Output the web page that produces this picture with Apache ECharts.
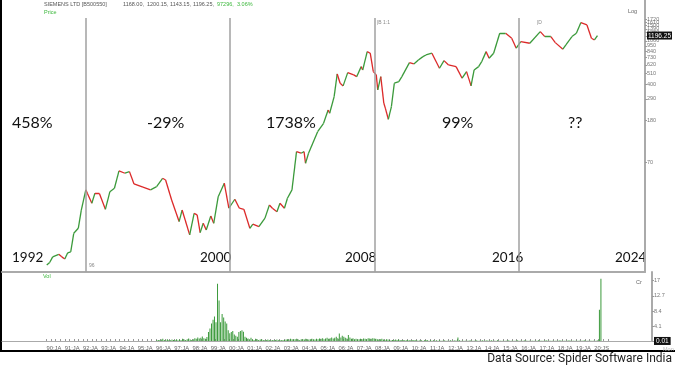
<!DOCTYPE html>
<html><head><meta charset="utf-8">
<script src="https://cdn.jsdelivr.net/npm/echarts@6/dist/echarts.min.js"></script>
<style>html,body{margin:0;padding:0;background:#fff}#c{width:675px;height:375px}</style>
</head><body><div id="c"></div>
<script>
// ---------- data ----------
const priceDates = ['1990-01','1990-03','1990-05','1990-09','1990-11','1991-01','1991-03','1991-05','1991-07','1991-10','1991-12',
'1992-03','1992-04','1992-07','1992-09','1992-12','1993-04','1993-07','1993-10','1994-01','1994-05','1994-08','1994-11',
'1995-05','1995-10','1996-02','1996-06','1996-08','1996-12','1997-05','1997-07','1997-09','1997-12','1998-03','1998-05',
'1998-07','1998-09','1998-11','1999-02','1999-04','1999-07','1999-11','2000-02','2000-06','2000-09','2000-12','2001-04',
'2001-06','2001-10','2002-02','2002-05','2002-07','2002-10','2002-12','2003-03','2003-05','2003-08','2003-11','2004-02',
'2004-04','2004-05','2004-07','2005-01','2005-05','2005-08','2005-09','2005-12','2006-02','2006-04','2006-06','2006-09',
'2007-01','2007-03','2007-06','2007-07','2007-10','2007-12','2008-02','2008-04','2008-05','2008-07','2008-09','2008-10',
'2008-12','2009-02','2009-04','2009-07','2009-09','2010-02','2010-05','2010-08','2010-11','2011-01','2011-05','2011-10',
'2012-01','2012-04','2012-09','2013-01','2013-04','2013-07','2013-09','2013-12','2014-02','2014-05','2014-07','2014-10',
'2015-02','2015-06','2015-10','2016-01','2016-04','2016-10','2017-05','2017-08','2017-12','2018-03','2018-08','2018-10',
'2019-02','2019-05','2019-08','2019-12','2020-03','2020-05','2020-07'];
const priceValues = [7.1,7.5,8.5,9.0,8.5,8.1,9.3,9.5,14.4,16.1,24.2,
38.0,35.2,28.2,35.2,35.0,24.6,36.5,39.4,58.0,55.1,57.1,43.4,
40.3,38.0,40.8,49.2,47.4,30.3,18.7,24.2,19.4,13.9,22.5,21.7,
14.6,18.0,15.5,21.2,18.0,32.6,44.1,25.2,30.8,25.2,24.6,16.1,
17.7,16.7,20.2,27.1,25.2,23.3,28.2,25.2,31.5,38.0,89.3,86.2,
89.3,68.9,86.2,139.6,168.4,226.8,210.7,305.4,507,412,388,522,
496,477,597,554,835,806,534,496,355,477,263,236,
184,244,412,427,477,653,634,693,747,775,806,576,
683,620,597,461,534,388,554,597,667,835,720,806,
1260,1260,1126,901,1044,1007,1305,1168,1168,1021,881,970,
1168,1260,1597,1516,1126,1084,1196.25];

const volYears = [1996,1997,1998,1999,2000,2001,2002,2003,2004,2005,2006,2007,2008,2009,2010,2011,2012,2013,2014,2015,2016,2017,2018,2019,2020];
const volMonthly = [
[0.2,0.3,0.2,0.4,0.6,0.3,0.2,0.5,0.3,0.2,0.4,0.3],
[0.3,0.5,0.2,0.4,0.3,0.6,0.4,0.3,0.5,0.7,0.4,0.3],
[0.5,0.8,0.6,1.0,0.7,0.9,1.3,0.8,0.6,1.1,2.5,3.5],
[4.9,6.0,6.9,5.3,16.1,11.4,5.3,7.6,6.6,5.5,4.9,3.0],
[2.2,2.5,2.8,1.8,1.5,1.2,2.5,2.8,3.0,2.6,1.2,0.9],
[0.7,0.5,0.9,0.4,0.3,0.6,0.5,0.3,0.4,0.5,0.3,0.2],
[0.3,0.4,0.3,0.2,0.3,0.2,0.3,0.4,0.2,0.3,0.2,0.3],
[0.3,0.4,0.5,0.4,0.6,0.5,0.4,0.5,0.6,0.4,0.3,0.5],
[0.5,0.4,0.6,0.5,0.4,0.5,0.6,0.5,0.4,0.6,0.5,0.7],
[0.6,0.8,0.5,0.7,0.9,0.6,0.8,1.0,0.7,0.9,1.2,0.8],
[2.1,1.0,1.5,1.2,0.9,0.7,1.7,1.0,0.6,0.8,0.5,0.6],
[0.4,0.5,0.6,0.5,0.7,0.6,0.5,0.8,0.7,0.6,0.8,0.7],
[0.6,0.5,0.4,0.5,0.6,0.4,0.3,0.5,0.4,0.3,0.2,0.3],
[0.3,0.4,0.3,0.4,0.3,0.2,0.3,0.2,0.2,0.3,0.2,0.2],
[0.2,0.3,0.2,0.2,0.1,0.2,0.2,0.1,0.2,0.3,0.2,0.1],
[0.2,0.1,0.2,0.1,0.2,0.1,0.2,0.1,0.1,0.2,0.1,0.1],
[0.1,0.2,0.1,0.1,0.2,0.1,1.0,0.2,0.1,0.1,0.1,0.1],
[0.1,0.1,0.2,0.1,0.1,0.1,0.2,0.1,0.1,0.1,0.2,0.1],
[0.1,0.2,0.1,0.1,0.2,0.1,0.1,0.1,0.2,0.1,0.1,0.1],
[0.1,0.1,0.1,0.2,0.1,0.1,0.1,0.1,0.1,0.2,0.1,0.1],
[0.1,0.1,0.2,0.1,0.1,0.1,0.1,0.1,0.1,0.1,0.1,0.2],
[0.1,0.1,0.1,0.1,0.2,0.1,0.1,0.1,0.1,0.1,0.1,0.1],
[0.1,0.2,0.1,0.1,0.1,0.1,0.1,0.2,0.1,0.1,0.1,0.1],
[0.1,0.1,0.1,0.1,0.1,0.2,0.1,0.1,0.1,0.1,0.1,0.1],
[0.1,0.1,0.2,8.8,17.5]
];

const priceTicks = [70,180,290,400,510,620,730,840,950,1060,1170,1280,1390,1500,1610,1720];
const lastPrice = 1196.25;
const volTicks = [0.01,4.1,8.4,12.7,17];
const xTickYears = [1990,1991,1992,1993,1994,1995,1996,1997,1998,1999,2000,2001,2002,2003,2004,2005,2006,2007,2008,2009,2010,2011,2012,2013,2014,2015,2016,2017,2018,2019,2020];
const xTickLabels = ['90:JA','91:JA','92:JA','93:JA','94:JA','95:JA','96:JA','97:JA','98:JA','99:JA','00:JA','01:JA','02:JA','03:JA','04:JA','05:JA','06:JA','07:JA','08:JA','09:JA','10:JA','11:JA','12:JA','13:JA','14:JA','15:JA','16:JA','17:JA','18:JA','19:JA','20:JS'];
const eraDates = ['1992-03-10','2000-03-12','2008-03-10','2016-03-07'];
const eraReturns = ['458%','-29%','1738%','99%','??'];
const eraYears = ['1992','2000','2008','2016','2024'];

// ---------- build ----------
const GREEN = '#3b9a3b', RED = '#dc2a2a';
function tsM(s){ const [y,m] = s.split('-').map(Number); return Date.UTC(y, m-1, 15); }
function tsD(s){ const [y,m,d] = s.split('-').map(Number); return Date.UTC(y, m-1, d); }
const X0 = Date.UTC(1987,6,25), X1 = Date.UTC(2023,2,3);
const PMIN = 6.06, PMAX = 2647, PTOP = 1775;

const pts = priceDates.map((d,i)=>[tsM(d), priceValues[i]]);
const segs = [];
for (let i=1;i<pts.length;i++){
  segs.push({coords:[pts[i-1], pts[i]], lineStyle:{color: priceValues[i] >= priceValues[i-1] ? GREEN : RED}});
}
const volData = [];
volYears.forEach((y,yi)=>volMonthly[yi].forEach((v,m)=>volData.push([Date.UTC(y,m,15), v])));
const yearStarts = xTickYears.map(y=>Date.UTC(y,0,1));
const quarterTicks = [];
xTickYears.forEach(y=>[0,3,6,9].forEach(m=>quarterTicks.push(Date.UTC(y,m,1))));

const smallFont = 'Liberation Sans';
function txt(x,y,text,font,fill,align){ return {type:'text', x:x, y:y, silent:true, style:{text:text, font:font, fill:fill, align:align||'left', verticalAlign:'middle'}}; }

const graphics = [
  {type:'line', silent:true, shape:{x1:1,y1:0,x2:1,y2:352}, style:{stroke:'#000', lineWidth:2}},
  {type:'line', silent:true, shape:{x1:0,y1:351,x2:675,y2:351}, style:{stroke:'#000', lineWidth:2}},
  txt(44,4,'SIEMENS LTD [B500550]','5.5px '+smallFont,'#555'),
  txt(123,4,'1168.00,','5.5px '+smallFont,'#555'),
  txt(147,4,'1200.15,','5.5px '+smallFont,'#555'),
  txt(170,4,'1143.15,','5.5px '+smallFont,'#555'),
  txt(193,4,'1196.25,','5.5px '+smallFont,'#555'),
  txt(217,4,'97296,','5.5px '+smallFont,'#3cb83c'),
  txt(237,4,'3.06%','5.5px '+smallFont,'#3cb83c'),
  txt(44,12,'Price','5.5px '+smallFont,'#3cb83c'),
  txt(43,276,'Vol','5.5px '+smallFont,'#3cb83c'),
  txt(628,11,'Log','5.5px '+smallFont,'#666'),
  txt(636,282,'Cr','5.5px '+smallFont,'#666'),
  txt(663,349,'Mon','5.5px '+smallFont,'#bbb'),
  txt(89,266,'96','5px '+smallFont,'#888'),
  txt(377,23,'|B 1:1','5px '+smallFont,'#888'),
  txt(537,23,'|D','5px '+smallFont,'#888'),
  txt(672,359,'Data Source: Spider Software India','12px Roboto','#222','right')
];
const retX = [12,147,266,442,568];
eraReturns.forEach((t,i)=>graphics.push(txt(retX[i],123,t,'16px Lato','#111')));
const yrX = [12,200,345,492,615];
eraYears.forEach((t,i)=>graphics.push(txt(yrX[i],258,t,'13.5px Lato','#111')));

const chart = echarts.init(document.getElementById('c'), null, {renderer:'canvas'});
chart.setOption({
  animation:false,
  backgroundColor:'#fff',
  grid:[
    {left:2, right:23, top:0, height:272},
    {left:2, right:23, top:272, height:69}
  ],
  xAxis:[
    {type:'value', gridIndex:0, min:X0, max:X1, axisLabel:{show:false}, axisTick:{show:false}, splitLine:{show:false},
     axisLine:{show:true, lineStyle:{color:'#aaa', width:2}}},
    {type:'value', gridIndex:1, min:X0, max:X1, splitLine:{show:false},
     axisLine:{show:true, lineStyle:{color:'#aaa', width:1}},
     axisTick:{show:true, inside:true, length:2, customValues:quarterTicks, lineStyle:{color:'#999'}},
     axisLabel:{show:true, customValues:yearStarts, align:'left', margin:4, fontSize:5.8, fontFamily:smallFont, color:'#666',
       formatter:function(v){ const y = new Date(v).getUTCFullYear(); const i = xTickYears.indexOf(y); return i>=0 ? xTickLabels[i] : ''; }}}
  ],
  yAxis:[
    {type:'log', logBase:10, gridIndex:0, position:'right', min:PMIN, max:PMAX, splitLine:{show:false},
     axisLine:{show:true, lineStyle:{color:'#aaa', width:2}},
     axisTick:{show:true, length:2, customValues:priceTicks, lineStyle:{color:'#999'}},
     axisLabel:{show:true, customValues:priceTicks.concat([lastPrice]), margin:2, fontSize:5.5, fontFamily:smallFont, color:'#777',
       formatter:function(v){ if (Math.abs(v-lastPrice)<0.5) return '{box|1196.25}'; return String(Math.round(v)); },
       rich:{box:{backgroundColor:'#111', color:'#fff', fontSize:6.5, fontFamily:smallFont, padding:[1,1,0,1]}}}},
    {type:'value', gridIndex:1, position:'right', min:0, max:19.4, splitLine:{show:false},
     axisLine:{show:true, lineStyle:{color:'#aaa', width:2}},
     axisTick:{show:true, length:2, customValues:volTicks, lineStyle:{color:'#999'}},
     axisLabel:{show:true, customValues:volTicks, margin:2, fontSize:5.5, fontFamily:smallFont, color:'#777',
       formatter:function(v){ if (v<0.1) return '{box|0.01}'; return String(v); },
       rich:{box:{backgroundColor:'#111', color:'#fff', fontSize:6.5, fontFamily:smallFont, padding:[1,2,0,2]}}}}
  ],
  series:[
    {type:'line', xAxisIndex:0, yAxisIndex:0, data:pts, showSymbol:false, silent:true, lineStyle:{opacity:0}, z:1,
     markLine:{silent:true, symbol:['none','none'], label:{show:false}, lineStyle:{color:'#a0a0a0', width:1.5, type:'solid'},
       data: eraDates.map(d=>[{coord:[tsD(d), PTOP]}, {coord:[tsD(d), PMIN]}])}},
    {type:'lines', coordinateSystem:'cartesian2d', xAxisIndex:0, yAxisIndex:0, polyline:false, silent:true, z:3,
     lineStyle:{width:1.3, opacity:1}, data:segs},
    {type:'bar', xAxisIndex:1, yAxisIndex:1, data:volData, barWidth:1, silent:true, itemStyle:{color:GREEN}}
  ],
  graphic:graphics
});
</script>
</body></html>
